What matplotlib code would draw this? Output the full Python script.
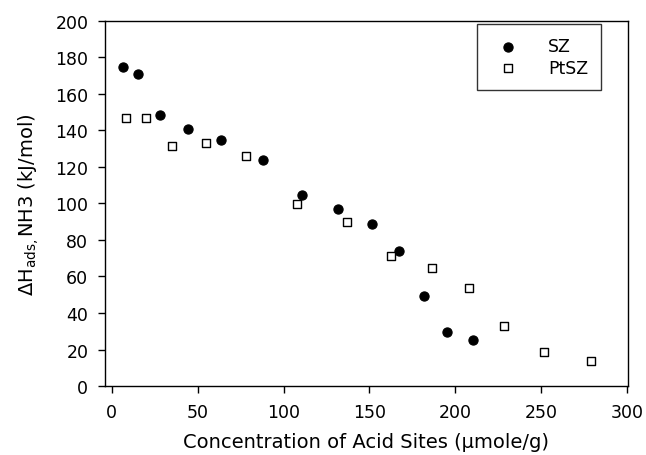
import matplotlib
matplotlib.use("Agg")
import matplotlib.pyplot as plt

plt.rcParams['font.family'] = ['DejaVu Sans']
plt.rcParams['mathtext.fontset'] = 'dejavusans'

# SZ (filled circles)
sz_x = [6.4, 15, 28, 44.4, 63.3, 88, 110.5, 131.4, 151.4, 167.2, 181.7, 194.9, 210.4]
sz_y = [175, 171, 148.6, 140.8, 134.9, 123.8, 104.8, 97, 89, 73.7, 49.2, 29.6, 25.2]

# PtSZ (open squares)
ptsz_x = [8.3, 19.6, 35.3, 55.1, 78, 108, 136.9, 162.5, 186.2, 207.7, 228.5, 251.4, 278.8]
ptsz_y = [146.8, 146.8, 131.3, 133.1, 126, 99.5, 90.1, 71.5, 64.4, 53.6, 32.9, 18.6, 13.7]

x_ticks = [0, 50, 100, 150, 200, 250, 300]
y_ticks = [0, 20, 40, 60, 80, 100, 120, 140, 160, 180, 200]

fig = plt.figure(figsize=(6.46, 4.56), dpi=100)
ax = fig.add_axes([0.1625, 0.1513, 0.8095, 0.8005])

ax.scatter(sz_x, sz_y, marker='o', s=44, facecolor='black', edgecolor='black',
           linewidths=0.8, label='SZ', zorder=3)
ax.scatter(ptsz_x, ptsz_y, marker='s', s=32, facecolor='white', edgecolor='black',
           linewidths=1.0, label='PtSZ', zorder=3)

ax.set_xlim(-4, 300.5)
ax.set_ylim(0, 200)
ax.set_xticks(x_ticks)
ax.set_yticks(y_ticks)
ax.tick_params(direction='out', length=5, width=1, labelsize=12.5, pad=7,
               top=False, right=False)
for sp in ax.spines.values():
    sp.set_linewidth(1.0)

ax.set_xlabel('Concentration of Acid Sites (\u03bcmole/g)', fontsize=14, labelpad=8)
ax.set_ylabel('\u0394H$_{\\mathrm{ads,}}$NH3 (kJ/mol)', fontsize=14, labelpad=10)

leg = ax.legend(loc='upper right', bbox_to_anchor=(0.955, 1.0), fontsize=12.5,
                frameon=True, fancybox=False, edgecolor='black',
                handletextpad=1.3, borderpad=0.75, labelspacing=0.2,
                handlelength=2.0, borderaxespad=0.2)
leg.get_frame().set_linewidth(1.0)

fig.savefig('out.png', dpi=100)
